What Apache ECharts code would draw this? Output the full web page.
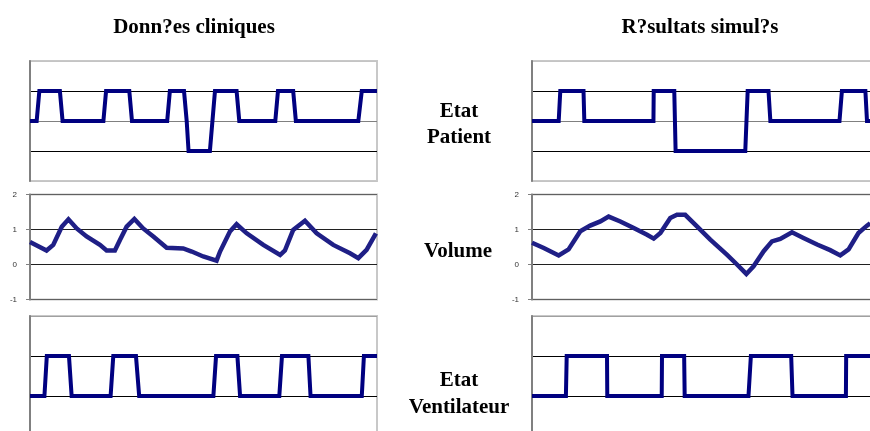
<!DOCTYPE html>
<html><head><meta charset="utf-8">
<script src="https://cdn.jsdelivr.net/npm/echarts@6/dist/echarts.min.js"></script>
<style>html,body{margin:0;padding:0;background:#fff}#c{width:870px;height:431px}</style>
</head><body><div id="c"></div>
<script>
// ---- data (time in samples 0..130) ----
const columnTitles = ['Donn?es cliniques', 'R?sultats simul?s'];
const rowLabelPatient = ['Etat', 'Patient'];
const rowLabelVolume = ['Volume'];
const rowLabelVentilator = ['Etat', 'Ventilateur'];
const volumeTickValues = [-1, 0, 1, 2];

const patientClinical = [[0,0],[2.5,0],[3.5,1],[11.2,1],[12.2,0],[27.5,0],[28.5,1],[37.2,1],[38.2,0],[51.4,0],[52.4,1],[57.7,1],[58.7,0],[59.4,-1],[67.4,-1],[69.3,1],[77.4,1],[78.4,0],[91.9,0],[92.9,1],[98.6,1],[99.6,0],[123,0],[124.3,1],[130,1]];
const patientSimulated = [[0,0],[10,0],[10.6,1],[19.3,1],[19.6,0],[45.5,0],[45.6,1],[53.3,1],[53.8,-1],[79.9,-1],[80.8,1],[88.6,1],[89.3,0],[115.2,0],[116.1,1],[124.9,1],[125.5,0],[130,0]];
const volumeClinical = [[0,0.64],[6.2,0.40],[8.7,0.56],[11.9,1.08],[14.4,1.29],[17.5,1.03],[21.2,0.80],[26.2,0.56],[28.7,0.40],[31.8,0.40],[33.7,0.70],[36.2,1.08],[39.1,1.30],[42.4,1.03],[46.2,0.80],[51.2,0.48],[57.4,0.46],[60.6,0.37],[64.9,0.23],[69.9,0.11],[71.2,0.37],[74.9,0.94],[77.4,1.15],[81.2,0.89],[87.4,0.56],[93.7,0.27],[95.5,0.40],[98.6,0.99],[103,1.25],[107.4,0.89],[113.6,0.56],[119.9,0.32],[123,0.18],[126.1,0.42],[129.6,0.89]];
const volumeSimulated = [[0,0.62],[4.4,0.47],[10,0.26],[13.7,0.43],[18.1,0.95],[21.8,1.11],[25.6,1.23],[28.7,1.37],[33.1,1.23],[38.1,1.04],[43.1,0.85],[45.6,0.74],[48.1,0.90],[51.8,1.33],[54.3,1.42],[57.4,1.42],[61.8,1.09],[66.8,0.71],[73,0.28],[76.8,0],[80.3,-0.27],[83,-0.05],[86.8,0.38],[89.9,0.66],[93,0.73],[97.4,0.92],[101.7,0.76],[106.8,0.57],[111.7,0.41],[115.5,0.26],[118.6,0.43],[122.3,0.90],[125.5,1.11],[126.7,1.18]];
const ventilatorClinical = [[0,0],[5.4,0],[6.3,1],[14.6,1],[15.6,0],[30.2,0],[31.2,1],[39.7,1],[40.9,0],[68.7,0],[69.7,1],[77.7,1],[78.7,0],[93.4,0],[94.4,1],[104.3,1],[105.1,0],[124.3,0],[125.1,1],[130,1]];
const ventilatorSimulated = [[0,0],[12.7,0],[13,1],[28.1,1],[28.2,0],[48.6,0],[48.7,1],[57,1],[57.2,0],[81.1,0],[82,1],[97.1,1],[97.6,0],[117.6,0],[117.7,1],[130,1]];

// ---- layout ----
const colLeft = [30, 532];
const colWidth = 347;
const rows = [
  { top: 61, height: 120, min: -2, max: 2, colors: ['#c4c4c4','#000','#808080','#000','#c4c4c4'], labels: false },
  { top: 194.5, height: 105, min: -1, max: 2, colors: ['#606060','#202020','#202020','#606060'], labels: true },
  { top: 316, height: 120, min: -1, max: 2, colors: ['#000','#000','#000','#a0a0a0'], labels: false }
];
const seriesData = [
  [patientClinical, patientSimulated],
  [volumeClinical, volumeSimulated],
  [ventilatorClinical, ventilatorSimulated]
];

const grid = [], xAxis = [], yAxis = [], series = [];
rows.forEach((r, ri) => {
  [0, 1].forEach(ci => {
    const idx = grid.length;
    grid.push({ left: colLeft[ci], top: r.top, width: colWidth, height: r.height,
      show: true, borderColor: '#c8c8c8', borderWidth: 2, containLabel: false, outerBoundsMode: 'none' });
    xAxis.push({ type: 'value', gridIndex: idx, min: 0, max: 130, show: false });
    yAxis.push({ type: 'value', gridIndex: idx, min: r.min, max: r.max, interval: 1,
      axisLine: { show: true, lineStyle: { color: '#808080', width: 2 } },
      axisTick: { show: r.labels, length: 4, lineStyle: { color: '#808080', width: 1 } },
      axisLabel: { show: r.labels, fontSize: 8, fontFamily: 'Liberation Sans', color: '#333', margin: 13,
        formatter: v => volumeTickValues.includes(v) ? String(v) : '' },
      splitLine: { show: true, lineStyle: { color: r.colors, width: 1 } } });
    const isVol = ri === 1;
    series.push({ type: 'line', xAxisIndex: idx, yAxisIndex: idx, data: seriesData[ri][ci],
      showSymbol: false, clip: true, silent: true,
      lineStyle: { color: isVol ? '#1f1f86' : '#000080', width: isVol ? 4.5 : 4, join: 'miter' } });
  });
});

const txt = (s, x, y) => ({ type: 'text', x: x, y: y,
  style: { text: s, fill: '#000', font: 'bold 21px "Liberation Serif"', align: 'center', verticalAlign: 'middle' } });
const graphic = [
  txt(columnTitles[0], 194, 28), txt(columnTitles[1], 700, 28),
  txt(rowLabelPatient[0], 459, 112), txt(rowLabelPatient[1], 459, 138),
  txt(rowLabelVolume[0], 458, 252),
  txt(rowLabelVentilator[0], 459, 381), txt(rowLabelVentilator[1], 459, 408)
];

const chart = echarts.init(document.getElementById('c'), null, { renderer: 'canvas' });
chart.setOption({ animation: false, backgroundColor: '#fff', grid, xAxis, yAxis, series, graphic });
</script></body></html>
